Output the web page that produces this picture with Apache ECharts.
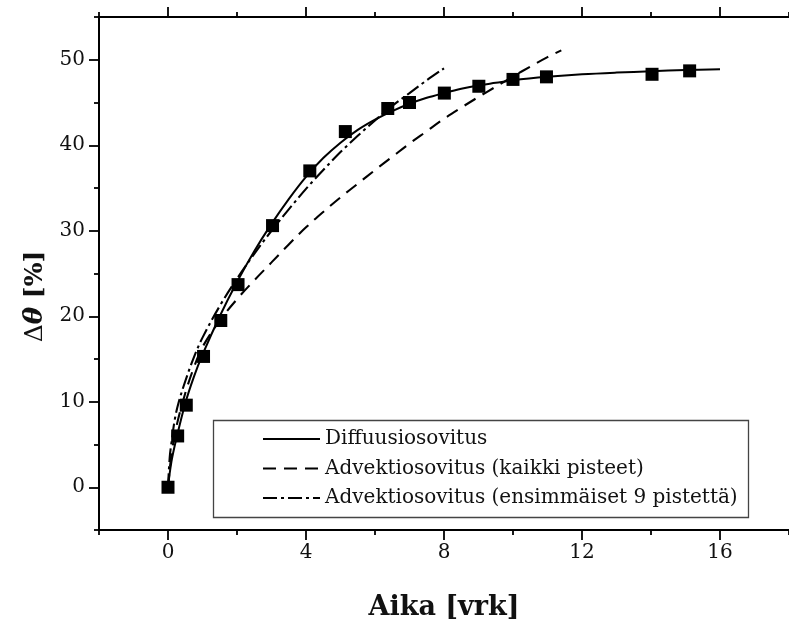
<!DOCTYPE html>
<html>
<head>
<meta charset="utf-8">
<script src="https://cdn.jsdelivr.net/npm/echarts@6/dist/echarts.min.js"></script>
<style>
  html, body { margin: 0; padding: 0; background: #fff; }
  #chart { width: 789px; height: 626px; }
</style>
</head>
<body>
<div id="chart"></div>
<script>
// Measured points: time [vrk] and change of water content [%]
var measDays  = [0, 0.28, 0.53, 1.03, 1.53, 2.03, 3.03, 4.11, 5.14, 6.37, 7.0, 8.01, 9.01, 10.0, 10.97, 14.03, 15.12];
var measTheta = [0, 6.0, 9.6, 15.3, 19.5, 23.7, 30.6, 37.0, 41.6, 44.3, 45.0, 46.1, 46.9, 47.7, 48.0, 48.3, 48.7];

// Diffusion fit
var diffDays  = [0, 0.1, 0.25, 0.5, 0.75, 1, 1.5, 2, 2.5, 3, 3.5, 4, 4.5, 5, 5.5, 6, 6.5, 7, 7.5, 8, 8.5, 9, 9.5, 10, 11, 12, 13, 14, 15, 16];
var diffTheta = [0, 3.0, 5.8, 9.8, 12.9, 15.5, 20.0, 24.0, 27.6, 30.8, 33.7, 36.3, 38.5, 40.3, 41.8, 43.0, 44.0, 44.85, 45.55, 46.1, 46.6, 47.0, 47.3, 47.6, 48.0, 48.3, 48.5, 48.65, 48.8, 48.9];

// Advection fit, all points
var advAllDays  = [0, 0.1, 0.25, 0.5, 0.75, 1, 1.5, 2, 2.5, 3, 3.5, 4, 4.5, 5, 5.5, 6, 6.5, 7, 7.5, 8, 8.5, 9, 9.5, 10, 10.5, 11, 11.4];
var advAllTheta = [0, 3.8, 7.2, 11.0, 14.0, 16.4, 19.5, 22.0, 24.2, 26.3, 28.4, 30.4, 32.2, 33.9, 35.5, 37.1, 38.65, 40.2, 41.65, 43.1, 44.4, 45.65, 46.85, 48.05, 49.2, 50.3, 51.1];

// Advection fit, first 9 points
var adv9Days  = [0, 0.05, 0.1, 0.2, 0.3, 0.5, 0.75, 1, 1.5, 2, 2.5, 3, 3.5, 4, 4.5, 5, 5.5, 6, 6.5, 7, 7.5, 8];
var adv9Theta = [0, 3.5, 5.2, 8.0, 9.8, 12.4, 15.2, 17.5, 21.2, 24.4, 27.3, 30.0, 32.5, 34.9, 37.1, 39.2, 41.1, 42.9, 44.6, 46.1, 47.6, 49.0];

// Tick positions
var xMajor = [0, 4, 8, 12, 16];
var xMinor = [-2, 2, 6, 10, 14, 18];
var yMajor = [0, 10, 20, 30, 40, 50];
var yMinor = [-5, 5, 15, 25, 35, 45, 55];

var seriesNames = ['Diffuusiosovitus', 'Advektiosovitus (kaikki pisteet)', 'Advektiosovitus (ensimmäiset 9 pistettä)'];

function pairs(xs, ys) {
  return xs.map(function (x, i) { return [x, ys[i]]; });
}

var FONT = 'DejaVu Serif';
var INK = '#000';

function xAxisDef(position, ticks, len, showLine, showLabels) {
  return {
    type: 'value', position: position, min: -2, max: 18, interval: 2,
    axisLine: { show: showLine, onZero: false, lineStyle: { color: INK, width: 2 } },
    axisTick: { show: true, inside: false, length: len, customValues: ticks, lineStyle: { color: INK, width: 1.8 } },
    axisLabel: showLabels ? { show: true, customValues: xMajor, margin: 13, fontFamily: FONT, fontSize: 20, color: '#111' } : { show: false },
    splitLine: { show: false }
  };
}

function yAxisDef(ticks, len, showLine, showLabels) {
  return {
    type: 'value', position: 'left', min: -5, max: 55, interval: 5,
    axisLine: { show: showLine, onZero: false, lineStyle: { color: INK, width: 2 } },
    axisTick: { show: true, inside: false, length: len, customValues: ticks, lineStyle: { color: INK, width: 1.8 } },
    axisLabel: showLabels ? { show: true, customValues: yMajor, margin: 14, fontFamily: FONT, fontSize: 20, color: '#111' } : { show: false },
    splitLine: { show: false }
  };
}

var xMain = xAxisDef('bottom', xMajor, 10, true, true);
xMain.name = 'Aika [vrk]';
xMain.nameLocation = 'middle';
xMain.nameGap = 64;
xMain.nameTextStyle = { fontFamily: FONT, fontWeight: 'bold', fontSize: 27, color: '#111' };

var yMain = yAxisDef(yMajor, 10, true, true);
yMain.name = '{d|Δ}{t|θ}{p| [%]}';
yMain.nameLocation = 'middle';
yMain.nameGap = 50;
yMain.nameTextStyle = {
  color: '#111',
  padding: [0, 46, 0, 0],
  rich: {
    d: { fontFamily: FONT, fontSize: 25, color: '#111' },
    t: { fontFamily: FONT, fontSize: 26, fontWeight: 'bold', fontStyle: 'italic', color: '#111' },
    p: { fontFamily: FONT, fontSize: 25, fontWeight: 'bold', color: '#111' }
  }
};

var option = {
  backgroundColor: '#fff',
  animation: false,
  grid: { left: 99, top: 17, right: -5, bottom: 95, containLabel: false },
  xAxis: [
    xMain,
    xAxisDef('bottom', xMinor, 5, false, false),
    xAxisDef('top', xMajor, 10, true, false),
    xAxisDef('top', xMinor, 5, false, false)
  ],
  yAxis: [
    yMain,
    yAxisDef(yMinor, 5, false, false)
  ],
  legend: {
    orient: 'vertical',
    left: 262, top: 429,
    itemWidth: 57, itemHeight: 20, itemGap: 9.5,
    padding: 0,
    data: seriesNames,
    itemStyle: { opacity: 0 },
    textStyle: { fontFamily: FONT, fontSize: 20, color: '#111' },
    z: 10
  },
  graphic: [{
    type: 'rect', z: 5,
    shape: { x: 213.5, y: 420.5, width: 535, height: 97 },
    style: { fill: '#fff', stroke: '#444', lineWidth: 1.3 }
  }],
  series: [
    {
      name: seriesNames[0], type: 'line', data: pairs(diffDays, diffTheta),
      symbol: 'none', smooth: 0.35,
      lineStyle: { color: INK, width: 2, type: 'solid' }, itemStyle: { color: INK }, z: 3
    },
    {
      name: seriesNames[1], type: 'line', data: pairs(advAllDays, advAllTheta),
      symbol: 'none', smooth: 0.35,
      lineStyle: { color: INK, width: 2.1, type: [13, 8] }, itemStyle: { color: INK }, z: 3
    },
    {
      name: seriesNames[2], type: 'line', data: pairs(adv9Days, adv9Theta),
      symbol: 'none', smooth: 0.35,
      lineStyle: { color: INK, width: 2.1, type: [14, 4, 3, 4] }, itemStyle: { color: INK }, z: 3
    },
    {
      name: 'Mittaus', type: 'scatter', data: pairs(measDays, measTheta),
      symbol: 'rect', symbolSize: 13, itemStyle: { color: INK, opacity: 1 }, z: 4
    }
  ]
};

var chart = echarts.init(document.getElementById('chart'), null, { renderer: 'canvas' });
chart.setOption(option);
</script>
</body>
</html>
